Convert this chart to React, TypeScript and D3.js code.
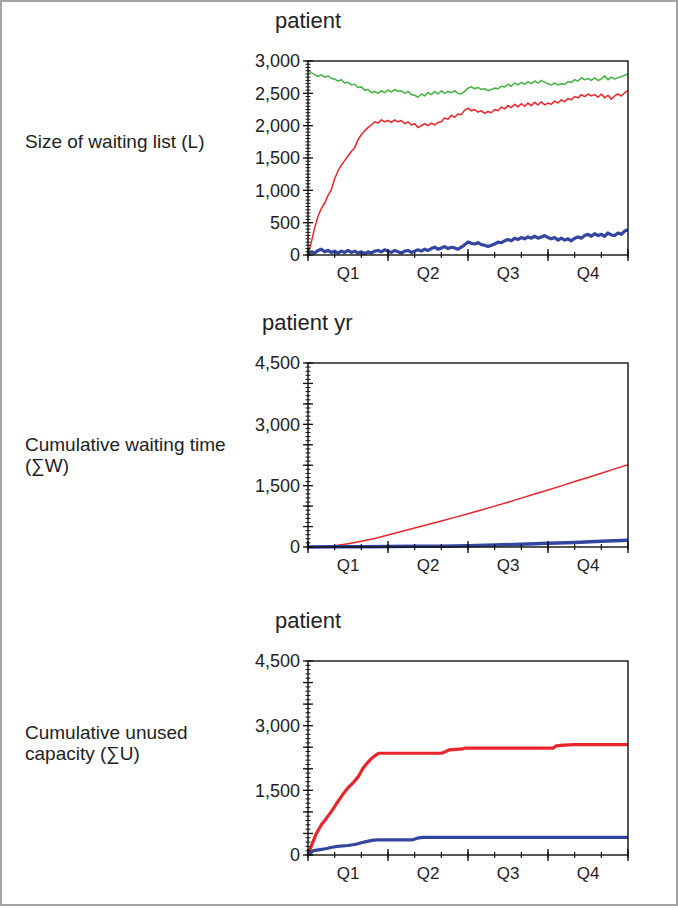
import React from 'react';
import * as d3 from 'd3';

// ---------- data ----------
const quarterLabels = ['Q1', 'Q2', 'Q3', 'Q4'];
const waitTicks = [0, 500, 1000, 1500, 2000, 2500, 3000];
const cumTicks = [0, 1500, 3000, 4500];

// Size of waiting list (L): one value every 1/8 month
const waitGreen = [
  2850, 2820, 2790, 2760, 2790, 2750, 2770, 2730, 2720, 2690, 2710, 2660, 2670, 2630, 2640, 2590,
  2600, 2550, 2560, 2510, 2530, 2500, 2540, 2510, 2550, 2520, 2560, 2530, 2540, 2500, 2530, 2480,
  2470, 2440, 2490, 2460, 2510, 2480, 2530, 2490, 2540, 2500, 2530, 2510, 2540, 2500, 2490, 2530,
  2580, 2600, 2570, 2590, 2560, 2570, 2540, 2560, 2580, 2570, 2610, 2600, 2640, 2610, 2660, 2630,
  2670, 2640, 2680, 2650, 2690, 2660, 2700, 2670, 2650, 2630, 2660, 2630, 2650, 2640, 2680, 2670,
  2710, 2690, 2740, 2710, 2730, 2700, 2740, 2700, 2720, 2770, 2710, 2750, 2720, 2740, 2760, 2780,
  2800,
];
const waitRed = [
  0, 200, 420, 600, 720, 800, 920, 1010, 1180, 1300, 1390, 1460, 1530, 1600, 1660, 1780,
  1860, 1920, 1970, 2010, 2060, 2040, 2090, 2060, 2080, 2050, 2090, 2060, 2080, 2030, 2060, 2010,
  2030, 1970, 2000, 2030, 2000, 2040, 2010, 2050, 2060, 2120, 2100, 2160, 2130, 2180, 2170, 2240,
  2270, 2230, 2250, 2210, 2230, 2190, 2220, 2200, 2250, 2230, 2290, 2260, 2310, 2280, 2330, 2290,
  2340, 2300, 2350, 2310, 2360, 2320, 2370, 2320, 2350, 2330, 2380, 2350, 2400, 2370, 2420, 2400,
  2450, 2430, 2480, 2450, 2490, 2460, 2480, 2440, 2490, 2430, 2470, 2410, 2460, 2490, 2460, 2510,
  2540,
];
const waitBlue = [
  20, 50, 30, 70, 90, 50, 70, 40, 60, 30, 60, 40, 70, 40, 60, 30,
  50, 20, 50, 30, 60, 70, 50, 80, 60, 40, 70, 50, 30, 60, 70, 40,
  60, 80, 60, 90, 70, 100, 120, 90, 110, 130, 100, 120, 110, 90, 120, 160,
  200, 180, 170, 190, 160, 150, 130, 150, 170, 200, 190, 220, 240, 220, 260, 240,
  270, 250, 280, 260, 290, 260, 280, 300, 270, 250, 270, 230, 260, 230, 250, 220,
  260, 280, 260, 300, 320, 290, 330, 300, 320, 290, 340, 310, 300, 340, 320, 370,
  390,
];

// Cumulative waiting time (patient yr): red every half month, blue monthly
const cumWaitRed = [
  0, 5, 30, 80, 140, 210, 295, 380, 465, 550, 635, 725, 815, 905, 1000, 1095,
  1195, 1295, 1395, 1495, 1600, 1700, 1805, 1910, 2010,
];
const cumWaitBlue = [0, 4, 8, 13, 17, 21, 32, 46, 68, 90, 111, 138, 164];

// Cumulative unused capacity (patient)
const unusedRedMonth = [0, 0.15, 0.3, 0.5, 0.7, 0.9, 1.1, 1.3, 1.5, 1.7, 1.9, 2.05, 2.2, 2.35, 2.5, 2.65, 5.0, 5.1, 5.3, 5.8, 5.9, 9.2, 9.3, 9.6, 10, 12];
const unusedRedValue = [0, 250, 480, 700, 860, 1030, 1220, 1400, 1560, 1680, 1830, 2000, 2120, 2220, 2300, 2360, 2360, 2380, 2440, 2460, 2480, 2480, 2530, 2550, 2560, 2560];
const unusedBlueMonth = [0, 0.2, 0.4, 0.7, 0.9, 1.1, 1.5, 1.8, 2.1, 2.4, 2.6, 3.9, 4.1, 4.3, 12];
const unusedBlueValue = [0, 100, 120, 150, 180, 200, 220, 250, 300, 340, 350, 350, 390, 410, 410];

// ---------- styles ----------
const RED = '#e8252b';
const GREEN = '#4db34a';
const BLUE = '#33459f';
const TEXT = '#222';
const FONT = 'Liberation Sans, Arial, Helvetica, sans-serif';

const X0 = 308;
const X1 = 628;

type Series = { xs: number[]; ys: number[]; color: string; width: number };

function Panel(props: {
  top: number;
  bottom: number;
  max: number;
  labelTicks: number[];
  mediumStep: number;
  minorStep: number;
  title: string;
  titleX: number;
  series: Series[];
}) {
  const { top, bottom, max, labelTicks, mediumStep, minorStep, title, titleX, series } = props;
  const x = d3.scaleLinear().domain([0, 12]).range([X0, X1]);
  const y = d3.scaleLinear().domain([0, max]).range([bottom, top]);
  const fmt = d3.format(',');
  const minor = d3.range(0, max + 0.001, minorStep);
  const medium = d3.range(0, max + 0.001, mediumStep);
  const months = d3.range(0, 13);
  const quarters = [0, 3, 6, 9, 12];
  const line = d3
    .line<[number, number]>()
    .x((d) => x(d[0]))
    .y((d) => y(d[1]));

  return (
    <g>
      <text x={titleX} y={top - 33} fontSize={22} fill={TEXT} fontFamily={FONT}>
        {title}
      </text>
      <defs>
        <clipPath id={`clip-${top}`}>
          <rect x={X0} y={top - 3} width={X1 - X0} height={bottom - top + 6} />
        </clipPath>
      </defs>
      <g clipPath={`url(#clip-${top})`}>
        {series.map((s, i) => (
          <path
            key={i}
            d={line(s.xs.map((v, j) => [v, s.ys[j]] as [number, number])) || ''}
            fill="none"
            stroke={s.color}
            strokeWidth={s.width}
            strokeLinejoin="round"
          />
        ))}
      </g>
      <rect x={X0} y={top} width={X1 - X0} height={bottom - top} fill="none" stroke="#111" strokeWidth={1.4} />
      {minor.map((v) => (
        <line key={'mi' + v} x1={X0 - 2.5} x2={X0 + 2.5} y1={y(v)} y2={y(v)} stroke="#111" strokeWidth={1} />
      ))}
      {medium.map((v) => (
        <line key={'me' + v} x1={X0 - 5} x2={X0 + 5} y1={y(v)} y2={y(v)} stroke="#111" strokeWidth={1.3} />
      ))}
      {labelTicks.map((v) => (
        <text
          key={'lt' + v}
          x={X0 - 8}
          y={y(v)}
          dy="0.36em"
          textAnchor="end"
          fontSize={18}
          fill={TEXT}
          fontFamily={FONT}
        >
          {fmt(v)}
        </text>
      ))}
      {months.map((m) => (
        <line key={'m' + m} x1={x(m)} x2={x(m)} y1={bottom - 3} y2={bottom + 3} stroke="#111" strokeWidth={1.2} />
      ))}
      {quarters.map((q) => (
        <line key={'q' + q} x1={x(q)} x2={x(q)} y1={bottom - 6} y2={bottom + 6} stroke="#111" strokeWidth={1.4} />
      ))}
      {quarterLabels.map((q, i) => (
        <text
          key={q}
          x={x(i * 3 + 1.5)}
          y={bottom + 24}
          textAnchor="middle"
          fontSize={17}
          fill={TEXT}
          fontFamily={FONT}
        >
          {q}
        </text>
      ))}
    </g>
  );
}

export default function App() {
  const eighth = waitGreen.map((_, i) => i / 8);
  const half = cumWaitRed.map((_, i) => i / 2);
  const monthly = cumWaitBlue.map((_, i) => i);
  return (
    <svg
      width={678}
      height={908}
      style={{ position: 'absolute', left: 0, top: 0, background: '#fff' }}
      fontFamily={FONT}
    >
      <rect x={1} y={1} width={676} height={904} fill="#fff" stroke="#a3a3a3" strokeWidth={2} />

      <text x={25} y={148} fontSize={19} fill={TEXT}>Size of waiting list (L)</text>
      <text x={25} y={451} fontSize={19} fill={TEXT}>Cumulative waiting time</text>
      <text x={25} y={472} fontSize={19} fill={TEXT}>(∑W)</text>
      <text x={25} y={739} fontSize={19} fill={TEXT}>Cumulative unused</text>
      <text x={25} y={760} fontSize={19} fill={TEXT}>capacity (∑U)</text>

      <Panel
        top={61}
        bottom={255}
        max={3000}
        labelTicks={waitTicks}
        mediumStep={500}
        minorStep={50}
        title="patient"
        titleX={275}
        series={[
          { xs: eighth, ys: waitGreen, color: GREEN, width: 1.6 },
          { xs: eighth, ys: waitRed, color: RED, width: 1.5 },
          { xs: eighth, ys: waitBlue, color: BLUE, width: 3.2 },
        ]}
      />
      <Panel
        top={363}
        bottom={547}
        max={4500}
        labelTicks={cumTicks}
        mediumStep={500}
        minorStep={100}
        title="patient yr"
        titleX={262}
        series={[
          { xs: half, ys: cumWaitRed, color: RED, width: 1.5 },
          { xs: monthly, ys: cumWaitBlue, color: BLUE, width: 3.5 },
        ]}
      />
      <Panel
        top={661}
        bottom={855}
        max={4500}
        labelTicks={cumTicks}
        mediumStep={500}
        minorStep={100}
        title="patient"
        titleX={275}
        series={[
          { xs: unusedRedMonth, ys: unusedRedValue, color: RED, width: 3.2 },
          { xs: unusedBlueMonth, ys: unusedBlueValue, color: BLUE, width: 3.2 },
        ]}
      />
    </svg>
  );
}
